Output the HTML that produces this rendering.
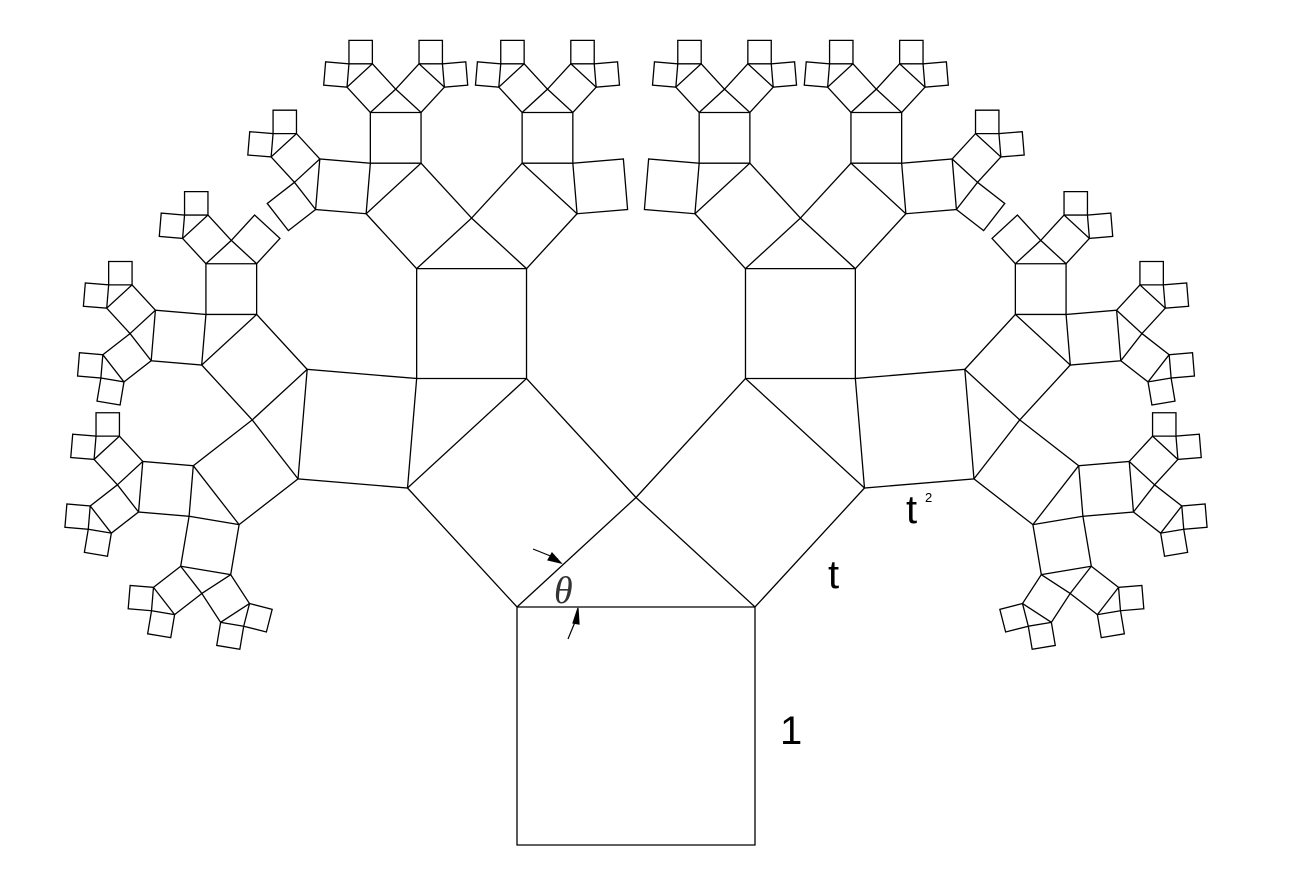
<!DOCTYPE html>
<html><head><meta charset="utf-8"><style>
html,body{margin:0;padding:0;background:#fff;}
svg{display:block;}
</style></head><body>
<svg id="chart" width="1294" height="880" viewBox="0 0 1294 880" xmlns="http://www.w3.org/2000/svg">
<g id="tree" fill="none" stroke="#000" stroke-width="1.3"></g>
<g stroke="#000" stroke-width="1.2" fill="#000">
<line x1="533" y1="549" x2="558" y2="559"/>
<polygon points="561,563 548,560 552,553"/>
<line x1="568" y1="639" x2="575" y2="622"/>
<polygon points="578,608 573,623 579,624"/>
</g>
<text x="554" y="603" font-family="'Liberation Serif',serif" font-style="italic" font-size="38" fill="#333">θ</text>
<text x="828" y="588" font-family="'Liberation Sans',sans-serif" font-size="40" fill="#000">t</text>
<text x="906" y="523" font-family="'Liberation Sans',sans-serif" font-size="40" fill="#000">t</text>
<text x="925" y="502" font-family="'Liberation Sans',sans-serif" font-size="13" fill="#000">2</text>
<text x="780" y="744" font-family="'Liberation Sans',sans-serif" font-size="40" fill="#000">1</text>
</svg>
<script>
const baseLeft = [517, 845];
const baseRight = [755, 845];
const apexHeight = [0.46];
const depthLevels = [6];
const prunedPaths = ['LRRR', 'LRLLL', 'LLRRR', 'RLLL', 'RLRRR', 'RRLLL'];
const g = document.getElementById('tree');
function sq(p1, p2, d, path) {
  const vx = p2[0]-p1[0], vy = p2[1]-p1[1];
  const nx = vy, ny = -vx;
  const p3 = [p2[0]+nx, p2[1]+ny], p4 = [p1[0]+nx, p1[1]+ny];
  const poly = document.createElementNS('http://www.w3.org/2000/svg','polygon');
  poly.setAttribute('points', [p1,p2,p3,p4].map(p=>p[0].toFixed(2)+','+p[1].toFixed(2)).join(' '));
  
  
  g.appendChild(poly);
  if (d <= 0 || prunedPaths.indexOf(path) >= 0) return;
  const mx = (p3[0]+p4[0])/2, my = (p3[1]+p4[1])/2;
  const apex = [mx + nx*apexHeight[0], my + ny*apexHeight[0]];
  sq(p4, apex, d-1, path + 'L');
  sq(apex, p3, d-1, path + 'R');
}
sq(baseLeft, baseRight, depthLevels[0], '');
</script>
</body></html>
